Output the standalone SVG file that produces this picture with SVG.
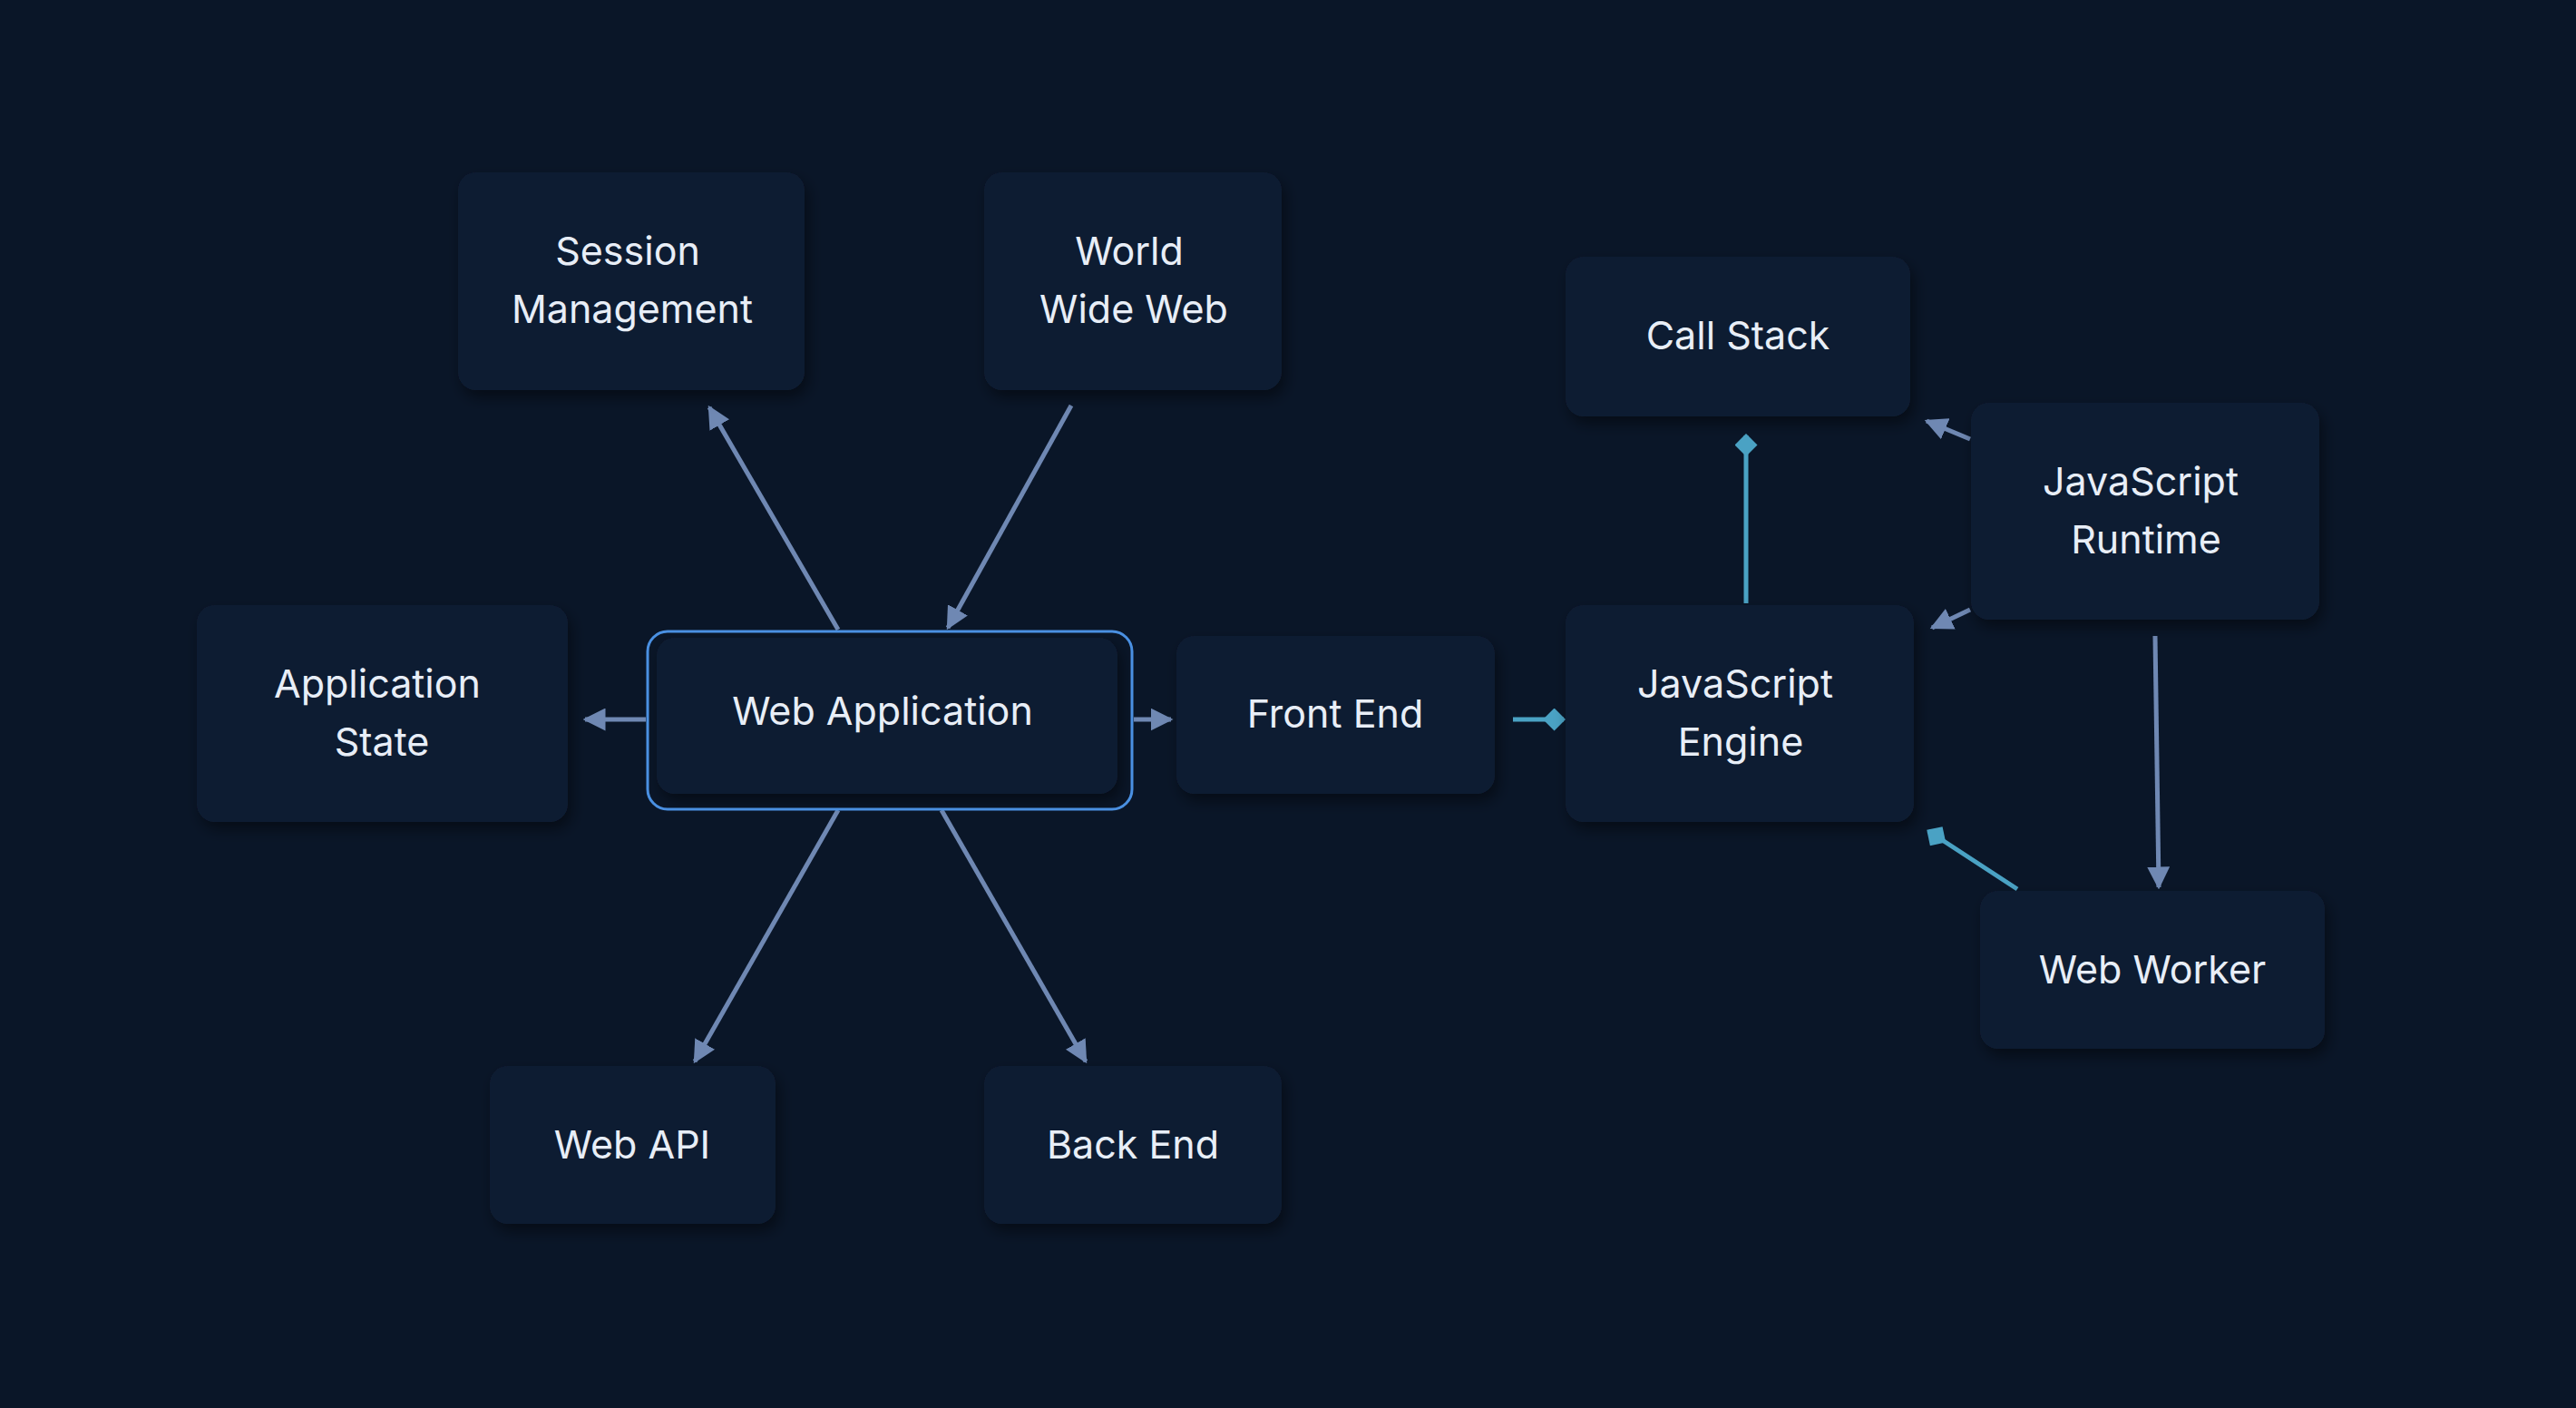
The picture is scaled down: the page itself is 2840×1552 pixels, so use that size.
<svg xmlns="http://www.w3.org/2000/svg" width="2840" height="1552" viewBox="0 0 2840 1552">
<style>
.card{fill:#101d33;filter:url(#sh)}
.t{font-family:Inter,"Noto Sans",sans-serif;font-size:43px;fill:#e8eef7;text-anchor:middle}
.a{stroke:#6f88b3;stroke-width:5;fill:none}
.d{stroke:#4aa2c4;stroke-width:5;fill:none}
</style>
<defs>
<filter id="sh" x="-20%" y="-20%" width="140%" height="150%"><feDropShadow dx="4" dy="8" stdDeviation="8" flood-color="#000" flood-opacity="0.45"/></filter>
<marker id="ar" viewBox="0 0 10 10" refX="9" refY="5" markerWidth="5" markerHeight="5" orient="auto" markerUnits="strokeWidth"><path d="M0,0L10,5L0,10z" fill="#6f88b3"/></marker>
<marker id="dm" viewBox="0 0 12 12" refX="11" refY="6" markerWidth="5" markerHeight="5" orient="auto" markerUnits="strokeWidth"><path d="M0,6L6,0L12,6L6,12z" fill="#4aa2c4"/></marker>
</defs>
<rect width="2840" height="1552" fill="#0a1628"/>
<g id="connectors">
<line class="a" x1="924" y1="694" x2="782" y2="449" marker-end="url(#ar)"/>
<line class="a" x1="1181" y1="447" x2="1045" y2="692" marker-end="url(#ar)"/>
<line class="a" x1="712" y1="793" x2="645" y2="793" marker-end="url(#ar)"/>
<line class="a" x1="1250" y1="793" x2="1291" y2="793" marker-end="url(#ar)"/>
<line class="a" x1="924" y1="893" x2="766" y2="1170" marker-end="url(#ar)"/>
<line class="a" x1="1038" y1="893" x2="1197" y2="1170" marker-end="url(#ar)"/>
<line class="d" x1="1668" y1="793" x2="1724" y2="793" marker-end="url(#dm)"/>
<line class="d" x1="1925" y1="665" x2="1925" y2="480" marker-end="url(#dm)"/>
<line class="a" x1="2172" y1="484" x2="2124" y2="464" marker-end="url(#ar)"/>
<line class="a" x1="2172" y1="672" x2="2130" y2="692" marker-end="url(#ar)"/>
<line class="a" x1="2376" y1="701" x2="2380" y2="978" marker-end="url(#ar)"/>
<line class="d" x1="2224" y1="980" x2="2126" y2="916" marker-end="url(#dm)"/>
</g>
<g id="session"><rect class="card" x="505" y="190" width="382" height="240" rx="20"/><text class="t" x="692" y="292">Session</text><text class="t" x="697" y="356">Management</text></g>
<g id="www"><rect class="card" x="1085" y="190" width="328" height="240" rx="20"/><text class="t" x="1245" y="292">World</text><text class="t" x="1250" y="356">Wide Web</text></g>
<g id="callstack"><rect class="card" x="1726" y="283" width="380" height="176" rx="20"/><text class="t" x="1916" y="385">Call Stack</text></g>
<g id="runtime"><rect class="card" x="2173" y="444" width="384" height="239" rx="20"/><text class="t" x="2360" y="546">JavaScript</text><text class="t" x="2366" y="610">Runtime</text></g>
<g id="appstate"><rect class="card" x="217" y="667" width="409" height="239" rx="20"/><text class="t" x="416" y="769">Application</text><text class="t" x="421" y="833">State</text></g>
<g id="webapp"><rect class="card" x="724" y="703" width="508" height="172" rx="20"/><rect x="714" y="696" width="534" height="196" rx="22" fill="none" stroke="#4a90e2" stroke-width="3"/><text class="t" x="973" y="799">Web Application</text></g>
<g id="frontend"><rect class="card" x="1297" y="701" width="351" height="174" rx="20"/><text class="t" x="1472" y="802">Front End</text></g>
<g id="jsengine"><rect class="card" x="1726" y="667" width="384" height="239" rx="20"/><text class="t" x="1913" y="769">JavaScript</text><text class="t" x="1919" y="833">Engine</text></g>
<g id="webworker"><rect class="card" x="2183" y="982" width="380" height="174" rx="20"/><text class="t" x="2373" y="1084">Web Worker</text></g>
<g id="webapi"><rect class="card" x="540" y="1175" width="315" height="174" rx="20"/><text class="t" x="697" y="1277">Web API</text></g>
<g id="backend"><rect class="card" x="1085" y="1175" width="328" height="174" rx="20"/><text class="t" x="1249" y="1277">Back End</text></g>
</svg>
